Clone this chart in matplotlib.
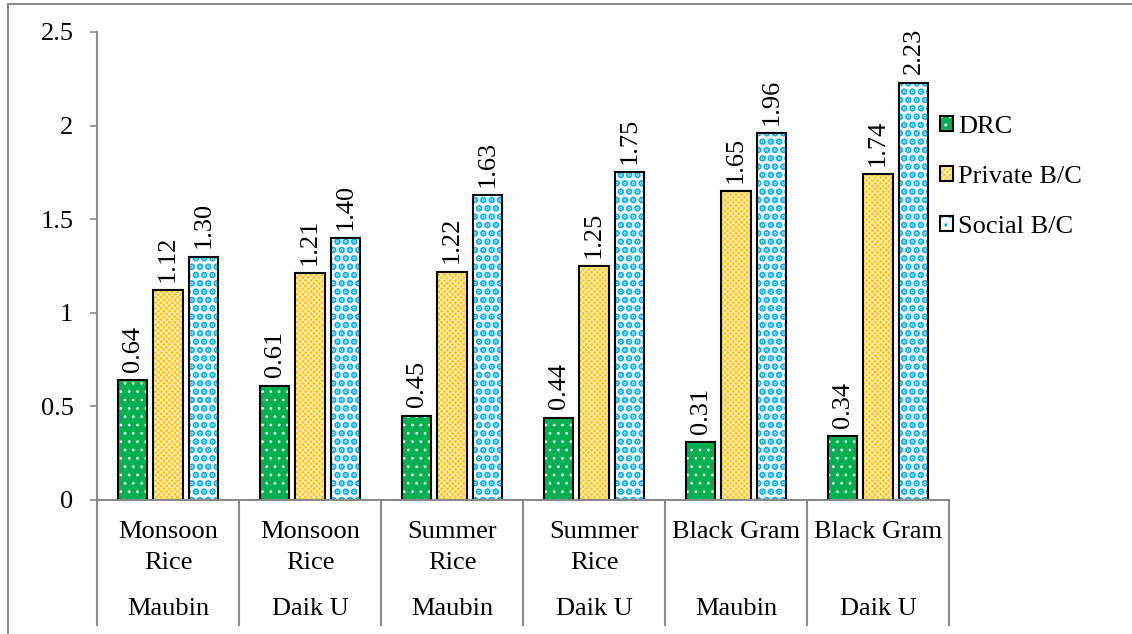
import numpy as np
import matplotlib
matplotlib.use("Agg")
import matplotlib.pyplot as plt
from matplotlib.patches import Patch
from matplotlib.lines import Line2D
from matplotlib.legend_handler import HandlerTuple

plt.rcParams['font.family'] = ['Liberation Serif', 'DejaVu Serif']
plt.rcParams['font.size'] = 19

# crop / township on the two-level category axis
crops = ["Monsoon\nRice", "Monsoon\nRice", "Summer\nRice", "Summer\nRice",
         "Black Gram", "Black Gram"]
towns = ["Maubin", "Daik U", "Maubin", "Daik U", "Maubin", "Daik U"]

drc = [0.64, 0.61, 0.45, 0.44, 0.31, 0.34]
private_bc = [1.12, 1.21, 1.22, 1.25, 1.65, 1.74]
social_bc = [1.30, 1.40, 1.63, 1.75, 1.96, 2.23]

# name, values, fill, hatch, hatch colour, hatch line width
series = [
    ("DRC", drc, "#00B050", "..", "#E8FFE8", 0.8),
    ("Private B/C", private_bc, "#FFC61A", "xxxxxx", "#FFF0C2", 0.8),
    ("Social B/C", social_bc, "#FFFFFF", "..", "#00AEEF", 3.4),
]

fig = plt.figure(figsize=(11.32, 6.34), dpi=100)
ax = fig.add_axes([97 / 1132, 1 - 500 / 634, 852 / 1132, 468 / 634])

x = np.arange(len(crops))
width = 0.21
offsets = [-0.25, 0.0, 0.25]
handles = []
for (name, vals, face, hatch, hcol, hlw), off in zip(series, offsets):
    with plt.rc_context({'hatch.linewidth': hlw}):
        # fill + coloured hatch first, then the black outline on top
        ax.bar(x + off, vals, width, color=face, hatch=hatch, edgecolor=hcol, linewidth=0)
        hpatch = Patch(facecolor=face, hatch=hatch, edgecolor=hcol, linewidth=0)
    ax.bar(x + off, vals, width, fill=False, edgecolor="black", linewidth=1.5)
    for xi, v in zip(x + off, vals):
        ax.annotate(f"{v:.2f}", (xi, v), xytext=(0, 6), textcoords="offset points",
                    rotation=90, ha="center", va="bottom")
    handles.append((hpatch, Patch(fill=False, edgecolor="black", linewidth=1.5)))

ax.set_xlim(-0.5, len(crops) - 0.5)
ax.set_ylim(0, 2.5)
ax.set_yticks([0, 0.5, 1, 1.5, 2, 2.5])
ax.set_yticklabels(["0", "0.5", "1", "1.5", "2", "2.5"])
ax.tick_params(axis="y", direction="out", length=5, width=1.2, color="#898989", pad=12)
ax.set_xticks([])
for s in ["top", "right"]:
    ax.spines[s].set_visible(False)
for s in ["left", "bottom"]:
    ax.spines[s].set_color("#898989")
    ax.spines[s].set_linewidth(1.5)

# category axis: separators and two rows of labels
trans = ax.get_xaxis_transform()
ax_h = 468
for b in np.arange(len(crops) + 1) - 0.5:
    ax.plot([b, b], [0, -(625 - 500) / ax_h], transform=trans, color="#898989",
            lw=1.5, clip_on=False)
for xi, crop, town in zip(x, crops, towns):
    for k, line in enumerate(crop.split("\n")):
        ax.text(xi, -(532 + 31 * k - 500) / ax_h, line, transform=trans,
                ha="center", va="center")
    ax.text(xi, -(609 - 500) / ax_h, town, transform=trans, ha="center", va="center")

ax.legend(handles, [s[0] for s in series], handler_map={tuple: HandlerTuple(ndivide=1)},
          loc="center left", bbox_to_anchor=(940 / 1132, 1 - 177 / 634),
          bbox_transform=fig.transFigure, frameon=False, handlelength=0.5,
          handleheight=0.5, handletextpad=0.2, labelspacing=1.05, borderaxespad=0,
          borderpad=0)

# outer chart frame
fig.add_artist(Line2D([8 / 1132, 8 / 1132], [0, 1 - 4 / 634], color="#898989", lw=1.5))
fig.add_artist(Line2D([8 / 1132, 1], [1 - 4 / 634, 1 - 4 / 634], color="#898989", lw=1.5))

fig.savefig("out.png", dpi=100)
